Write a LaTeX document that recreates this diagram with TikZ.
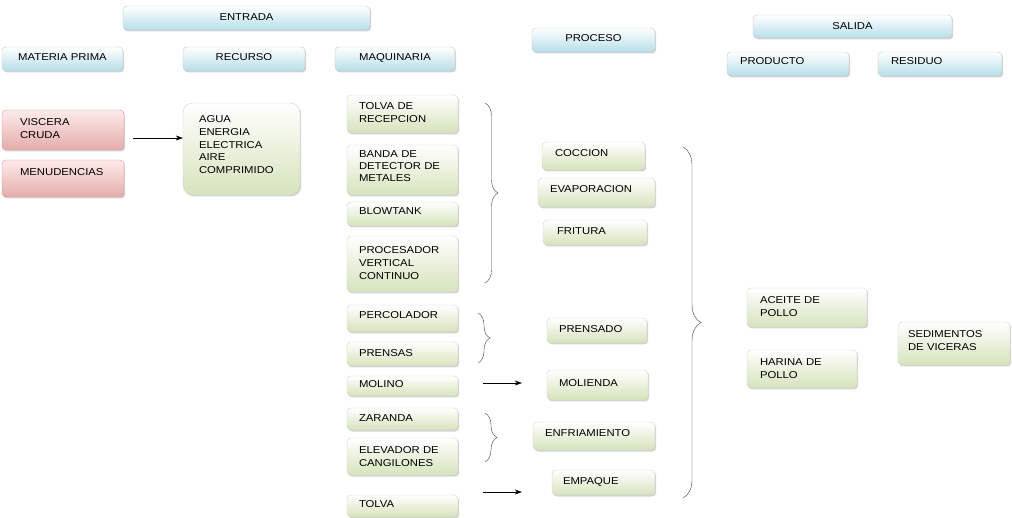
\documentclass[tikz,border=0pt]{standalone}
\usepackage{fontspec}
\setmainfont{Liberation Sans}[FakeStretch=1.13]
\usepackage{tikz}
\usetikzlibrary{arrows, arrows.meta, positioning, shadows, decorations.pathreplacing}
\definecolor{headblue}{RGB}{183,222,233}
\definecolor{stepgreen}{RGB}{214,227,188}
\definecolor{rawred}{RGB}{228,172,171}
\definecolor{rawedge}{RGB}{214,150,148}
\tikzstyle{head} = [rectangle, rounded corners=4pt, draw=gray!45, top color=white, bottom color=headblue, align=center, inner xsep=12pt, inner ysep=1pt, drop shadow={shadow xshift=1.2pt, shadow yshift=-1.5pt, opacity=0.35}]
\tikzstyle{machine} = [rectangle, rounded corners=4pt, draw=gray!35, top color=white, bottom color=stepgreen, align=left, inner xsep=12pt, inner ysep=1pt, drop shadow={shadow xshift=1.2pt, shadow yshift=-1.5pt, opacity=0.35}]
\tikzstyle{raw} = [rectangle, rounded corners=4pt, draw=rawedge, top color=red!8, bottom color=rawred, align=left, inner xsep=18pt, inner ysep=1pt, drop shadow={shadow xshift=1.2pt, shadow yshift=-1.5pt, opacity=0.35}]
\tikzstyle{arrow} = [-{Stealth[length=7pt,width=5pt]}]
\tikzstyle{curly} = [decorate, draw=black!75]
\tikzset{lift/.style={text depth=#1}}

\begin{document}
\begin{tikzpicture}[x=1pt, y=-1pt, font=\fontsize{10}{12.8}\selectfont]
    \useasboundingbox (0,0) rectangle (1012,518);
    % headers
    \node(entrada)[head, lift=2pt, text width=223pt, minimum height=24pt] at (246.5,18) {ENTRADA};
    \node(materia)[head, lift=4pt, text width=97pt, minimum height=24pt] at (62.5,59) {MATERIA PRIMA};
    \node(recurso)[head, lift=4pt, text width=98pt, minimum height=24pt] at (244,59) {RECURSO};
    \node(maquinaria)[head, lift=4pt, text width=96pt, minimum height=24pt] at (395,59) {MAQUINARIA};
    \node(proceso)[head, lift=4pt, text width=99pt, minimum height=24pt] at (593.5,40) {PROCESO};
    \node(salida)[head, text width=175pt, minimum height=23pt] at (852.5,26.5) {SALIDA};
    \node(producto)[head, lift=6pt, align=left, inner xsep=13pt, text width=96pt, minimum height=24pt] at (788,64) {PRODUCTO};
    \node(residuo)[head, lift=6pt, align=left, inner xsep=13pt, text width=98pt, minimum height=24pt] at (940,64) {RESIDUO};
    %
    \node(viscera)[raw, lift=15.8pt, text width=86pt, minimum height=40pt] at (63,130) {VISCERA\\CRUDA};
    \node(menud)[raw, lift=13pt, text width=86pt, minimum height=37pt] at (63,178.5) {MENUDENCIAS};
    \node(agua)[machine, lift=60pt, rounded corners=10pt, inner xsep=16pt, text width=85pt, minimum height=92pt] at (241.5,149) {AGUA\\ENERGIA\\ELECTRICA\\AIRE\\COMPRIMIDO};
    %
    \node(tolvarec)[machine, lift=15.8pt, text width=87pt, minimum height=38pt] at (402.5,114) {TOLVA DE\\RECEPCION};
    \node(banda)[machine, lift=32pt, text width=87pt, minimum height=50pt, font=\fontsize{10}{12}\selectfont] at (402.5,170) {BANDA DE\\DETECTOR DE\\METALES};
    \node(blowtank)[machine, lift=6pt, text width=87pt, minimum height=24pt] at (402.5,214) {BLOWTANK};
    \node(procesador)[machine, lift=27.6pt, text width=87pt, minimum height=56pt] at (402.5,264) {PROCESADOR\\VERTICAL\\CONTINUO};
    \node(percolador)[machine, lift=6pt, text width=87pt, minimum height=27pt] at (402.5,318.5) {PERCOLADOR};
    \node(prensas)[machine, lift=2pt, text width=87pt, minimum height=24pt] at (402.5,354) {PRENSAS};
    \node(molino)[machine, lift=4pt, text width=87pt, minimum height=20pt] at (402.5,386) {MOLINO};
    \node(zaranda)[machine, lift=2pt, text width=87pt, minimum height=22pt] at (402.5,419) {ZARANDA};
    \node(elevador)[machine, text width=87pt, minimum height=37pt] at (402.5,456.5) {ELEVADOR DE\\CANGILONES};
    \node(tolva)[machine, lift=4pt, text width=87pt, minimum height=22pt] at (402.5,506) {TOLVA};
    %
    \node(coccion)[machine, lift=6pt, inner xsep=13pt, text width=77pt, minimum height=28pt] at (593.5,156) {COCCION};
    \node(evaporacion)[machine, lift=6pt, text width=93pt, minimum height=29pt] at (596.5,192.5) {EVAPORACION};
    \node(fritura)[machine, lift=2pt, inner xsep=14pt, text width=76pt, minimum height=25pt] at (595,232.5) {FRITURA};
    \node(prensado)[machine, lift=2pt, text width=76pt, minimum height=25pt] at (597,330.5) {PRENSADO};
    \node(molienda)[machine, lift=4pt, text width=77pt, minimum height=30pt] at (597.5,385) {MOLIENDA};
    \node(enfriamiento)[machine, lift=6pt, text width=98pt, minimum height=28pt] at (594,436) {ENFRIAMIENTO};
    \node(empaque)[machine, lift=2pt, inner xsep=11pt, text width=81pt, minimum height=25pt] at (603.5,482.5) {EMPAQUE};
    %
    \node(aceite)[machine, lift=14.8pt, inner xsep=13pt, text width=94pt, minimum height=39pt] at (807,307.5) {ACEITE DE\\POLLO};
    \node(harina)[machine, inner xsep=13pt, text width=84pt, minimum height=38pt] at (802,369) {HARINA DE\\POLLO};
    \node(sedimentos)[machine, lift=18.8pt, inner xsep=10pt, text width=92pt, minimum height=43pt] at (954,343.5) {SEDIMENTOS\\DE VICERAS};
    %
    \coordinate(v1) at ([shift={(9pt,-8pt)}]viscera.east);
    \draw[arrow](v1) -- (v1 -| agua.west);
    \coordinate(m1) at ([shift={(25pt,3pt)}]molino.east);
    \draw[arrow](m1) -- ([xshift=-25pt]molienda.west |- m1);
    \coordinate(t1) at ([shift={(25pt,14pt)}]tolva.east);
    \draw[arrow](t1) -- ([xshift=-30pt]empaque.west |- t1);
    %
    \draw[curly, decoration={brace, amplitude=13pt}] (485,103) -- (485,283);
    \draw[curly, decoration={brace, amplitude=12pt}] (478,313) -- (478,363);
    \draw[curly, decoration={brace, amplitude=12pt}] (485,413) -- (485,462);
    \draw[curly, decoration={brace, amplitude=18pt}] (683,147) -- (683,498);
\end{tikzpicture}
\end{document}
